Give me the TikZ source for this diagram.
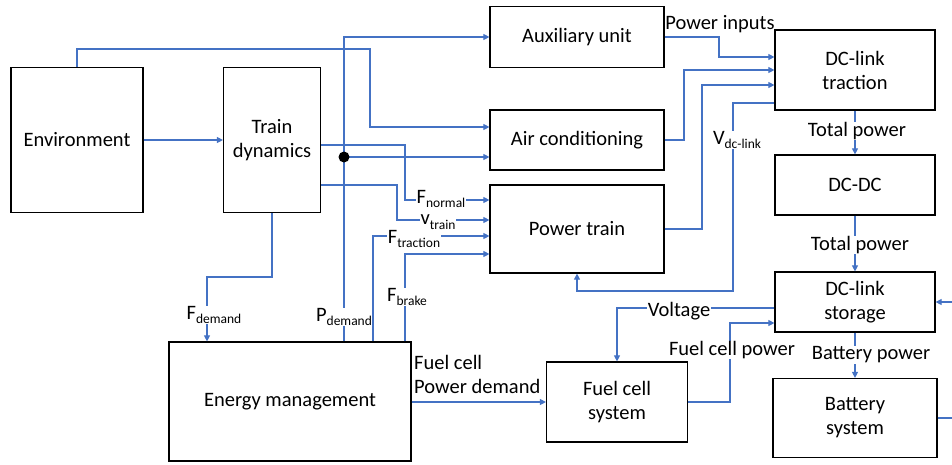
\documentclass[tikz,border=0pt]{standalone}
\usepackage{fontspec}
\setmainfont{Carlito}
\usetikzlibrary{arrows.meta}
\definecolor{lnblue}{RGB}{68,114,196}
\newcommand\lsub[1]{\raisebox{-4.5pt}{\fontsize{13.5}{14}\selectfont #1}}
\begin{document}
\begin{tikzpicture}[x=1pt,y=-1pt,
  box/.style={draw=black,line width=1.2pt,inner sep=0pt,align=center,font=\fontsize{20.5}{24}\selectfont},
  conn/.style={draw=lnblue,line width=1.1pt},
  arr/.style={conn,-{Triangle[length=6pt,width=6pt]}},
  lbl/.style={fill=white,inner sep=0.5pt,font=\fontsize{20.5}{24}\selectfont},
  plbl/.style={inner sep=1pt,font=\fontsize{20.5}{24}\selectfont}]
\useasboundingbox (0,0) rectangle (952,464);
% boxes
\node[box,minimum width=132pt,minimum height=145pt] (env) at (77,140) {Environment};
\node[box,minimum width=97pt,minimum height=145pt] (td) at (272,140) {Train\\dynamics};
\node[box,minimum width=174pt,minimum height=61pt] (aux) at (577,37) {Auxiliary unit};
\node[box,minimum width=174pt,minimum height=60pt] (ac) at (577,140) {Air conditioning};
\node[box,minimum width=174pt,minimum height=88pt] (pt) at (577,229) {Power train};
\node[box,minimum width=160pt,minimum height=80pt] (dct) at (855,70) {DC-link\\traction};
\node[box,minimum width=160pt,minimum height=60pt] (dcdc) at (855,185) {DC-DC};
\node[box,minimum width=160pt,minimum height=60pt] (dcs) at (855,302) {DC-link\\storage};
\node[box,minimum width=164pt,minimum height=79pt] (bat) at (855,418) {Battery\\system};
\node[box,minimum width=242pt,minimum height=119pt] (em) at (290,401.5) {Energy management};
\node[box,minimum width=141pt,minimum height=80pt] (fc) at (617,402) {Fuel cell\\system};
% coordinates at the frame edge
\coordinate (batout) at (952,418);
\coordinate (dcsin) at (952,302);
\coordinate (dot) at (344,157);
% connectors
\draw[arr] (env.east) -- (td.west);
\draw[arr] (env.north) |- (370,49) |- (ac.west |- 0,127);
\draw[arr] (em.north -| 344,0) |- (aux.west |- 0,37);
\draw[arr] (dot) -- (ac.west |- 0,157);
\fill (dot) circle (5.5);
\draw[arr] (td.east |- 0,145) -| (405,200) -- (pt.west |- 0,200);
\draw[arr] (td.east |- 0,185) -| (397,220) -- (pt.west |- 0,220);
\draw[arr] (em.north -| 373,0) |- (pt.west |- 0,236);
\draw[arr] (em.north -| 405,0) |- (pt.west |- 0,254);
\draw[arr] (td.south) |- (207,277) -- (em.north -| 207,0);
\draw[arr] (aux.east) -| (719,57) -- (dct.west |- 0,57);
\draw[arr] (ac.east) -| (684,70) -- (dct.west |- 0,70);
\draw[arr] (pt.east) -| (702,85) -- (dct.west |- 0,85);
\draw[arr] (dct.west |- 0,103) -| (733,291) -| (pt.south);
\draw[arr] (dct.south) -- (dcdc.north);
\draw[arr] (dcdc.south) -- (dcs.north);
\draw[arr] (dcs.south) -- (bat.north);
\draw[arr] (dcs.west |- 0,308) -| (fc.north);
\draw[arr] (fc.east) -| (730,323) -- (dcs.west |- 0,323);
\draw[arr] (em.east |- 0,402) -- (fc.west);
\draw[conn] (bat.east) -- (batout);
\draw[arr] (dcsin) -- (dcs.east);
% labels
\node[lbl] (lfn) at (441,199) {F\lsub{normal}};
\node[lbl] (lvt) at (438,222) {v\lsub{train}};
\node[lbl] (lft) at (414,239) {F\lsub{traction}};
\node[lbl] (lfb) at (407,297) {F\lsub{brake}};
\node[lbl] (lpd) at (344,317) {P\lsub{demand}};
\node[lbl] (lfd) at (214,315) {F\lsub{demand}};
\node[lbl] (lvd) at (737,140) {V\lsub{dc-link}};
\node[lbl] (lvo) at (679,311) {Voltage};
\node[lbl] (lfp) at (732,350) {Fuel cell power};
\node[lbl] (ltp1) at (857,131) {Total power};
\node[lbl] (ltp2) at (860,245) {Total power};
\node[lbl] (lbp) at (871,355) {Battery power};
\node[plbl] (lpi) at (720,24) {Power inputs};
\node[plbl,align=left,anchor=west] (lfcd) at (413,374) {Fuel cell\\Power demand};
\end{tikzpicture}
\end{document}
